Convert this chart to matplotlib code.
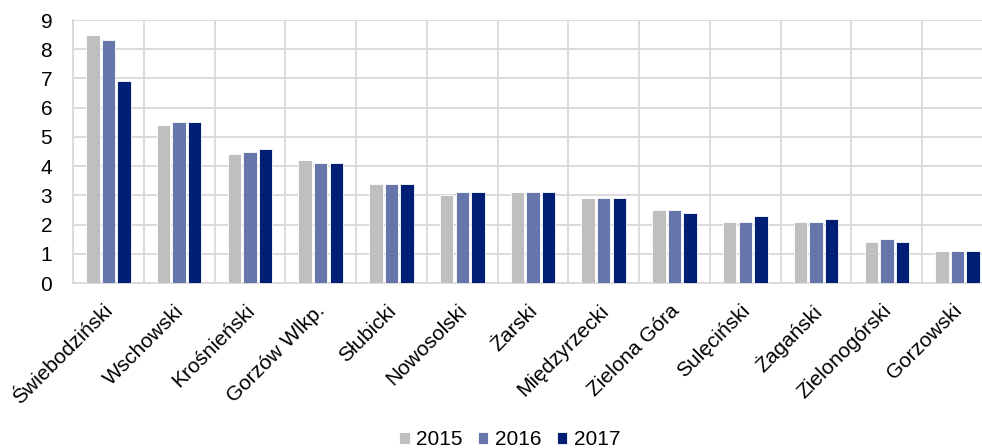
import matplotlib
matplotlib.use("Agg")
import matplotlib.pyplot as plt
import matplotlib.transforms as mtransforms
import numpy as np

plt.rcParams['font.family'] = ['Liberation Sans', 'DejaVu Sans']

categories = ["Świebodziński", "Wschowski", "Krośnieński", "Gorzów Wlkp.", "Słubicki",
              "Nowosolski", "Żarski", "Międzyrzecki", "Zielona Góra", "Sulęciński",
              "Żagański", "Zielonogórski", "Gorzowski"]
v2015 = [8.5, 5.4, 4.4, 4.2, 3.4, 3.0, 3.1, 2.9, 2.5, 2.1, 2.1, 1.4, 1.1]
v2016 = [8.3, 5.5, 4.5, 4.1, 3.4, 3.1, 3.1, 2.9, 2.5, 2.1, 2.1, 1.5, 1.1]
v2017 = [6.9, 5.5, 4.6, 4.1, 3.4, 3.1, 3.1, 2.9, 2.4, 2.3, 2.2, 1.4, 1.1]
years = ["2015", "2016", "2017"]
colors = ["#BFBFBF", "#6676AB", "#001E73"]

fig = plt.figure(figsize=(9.82, 4.48), dpi=100)
ax = fig.add_axes([73 / 982, 1 - 283 / 448, 920 / 982, 263 / 448])

x = np.arange(len(categories))
width = 0.19
offset = 0.22
for i, (vals, lab, col) in enumerate(zip([v2015, v2016, v2017], years, colors)):
    ax.bar(x + (i - 1) * offset, vals, width, color=col, label=lab, zorder=3,
           edgecolor="white", linewidth=0.6)

ax.set_xlim(-0.5, len(categories) - 0.5)
ax.set_ylim(0, 9)
ax.set_yticks(range(10))
ax.yaxis.grid(True, color="#D9D9D9", linewidth=1.3, zorder=0)
# vertical separators between categories
ax.set_xticks(np.arange(len(categories) + 1) - 0.5, minor=True)
ax.xaxis.grid(True, which="minor", color="#D9D9D9", linewidth=1.3, zorder=0)
ax.set_xticks(x)
ax.set_xticklabels(categories, rotation=45, ha="right", va="top",
                   rotation_mode="anchor", fontsize=15)
ax.tick_params(axis="x", which="both", length=0, pad=13)
ax.tick_params(axis="y", length=0, pad=15, labelsize=15)
shift = mtransforms.ScaledTranslation(-5 / 100, 0, fig.dpi_scale_trans)
for lbl in ax.get_xticklabels():
    lbl.set_transform(lbl.get_transform() + shift)
for s in ["top", "right"]:
    ax.spines[s].set_visible(False)
for s in ["left", "bottom"]:
    ax.spines[s].set_color("#D9D9D9")
    ax.spines[s].set_linewidth(1.3)

fig.legend(loc="lower center", bbox_to_anchor=(0.519, -0.045), ncol=3, frameon=False,
           fontsize=15, handlelength=0.5, handleheight=0.5, handletextpad=0.3,
           columnspacing=0.75)

fig.savefig("out.png", dpi=100)
